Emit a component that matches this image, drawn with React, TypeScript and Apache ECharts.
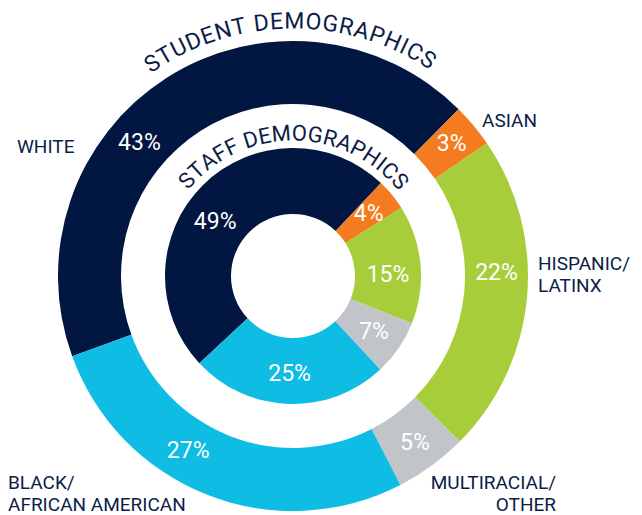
import React, { useEffect, useRef } from "react";
import * as echarts from "echarts";

// ---- data ----
const categories = ["WHITE", "ASIAN", "HISPANIC/LATINX", "MULTIRACIAL/OTHER", "BLACK/AFRICAN AMERICAN"];
const studentValues = [43, 3, 22, 5, 27];
const staffValues = [49, 4, 15, 7, 25];
const sliceColors = ["#021642", "#F47B20", "#A8CD3B", "#C1C5C9", "#0FBDE4"];
const outerTitle = "STUDENT DEMOGRAPHICS";
const innerTitle = "STAFF DEMOGRAPHICS";

// ---- layout / style ----
const CX = 293;
const CY = 276;
const OUTER_R: [number, number] = [172, 235];
const INNER_R: [number, number] = [62, 128];
const NAVY_TEXT = "#0B1D48";
const FONT_FAMILY = "Roboto, 'Noto Sans', sans-serif";

// label angle overrides (degrees, counter-clockwise from +x); null = slice middle
const outerLabelAngles: (number | null)[] = [139, null, 1, null, -121];
const innerLabelAngles: (number | null)[] = [145, null, 1, null, null];

function measure(ctx: CanvasRenderingContext2D | null, s: string, font: string, size: number) {
  if (!ctx) return s.length * size * 0.6;
  ctx.font = font;
  return ctx.measureText(s).width;
}

function arcText(text: string, radius: number, startDeg: number, endDeg: number, fontSize: number) {
  const font = `400 ${fontSize}px ${FONT_FAMILY}`;
  const canvas = document.createElement("canvas");
  const ctx = canvas.getContext("2d");
  const chars = text.split("");
  const widths = chars.map((c) => measure(ctx, c, font, fontSize));
  const n = chars.length;
  const total = widths.reduce((a, b) => a + b, 0);
  const natural = total - widths[0] / 2 - widths[n - 1] / 2;
  const target = (((startDeg - endDeg) * Math.PI) / 180) * radius;
  const extra = (target - natural) / (n - 1);
  const els: any[] = [];
  let s = 0;
  for (let i = 0; i < n; i++) {
    if (i > 0) s += widths[i - 1] / 2 + widths[i] / 2 + extra;
    const ang = (startDeg * Math.PI) / 180 - s / radius;
    if (chars[i] === " ") continue;
    els.push({
      type: "text",
      x: CX + radius * Math.cos(ang),
      y: CY - radius * Math.sin(ang),
      rotation: ang - Math.PI / 2,
      silent: true,
      style: {
        text: chars[i],
        font,
        fill: NAVY_TEXT,
        align: "center",
        verticalAlign: "middle",
        textAlign: "center",
        textVerticalAlign: "middle",
      },
    });
  }
  return els;
}

function sideText(text: string, x: number, y: number, align: "left" | "right" = "left") {
  return {
    type: "text",
    x,
    y,
    silent: true,
    style: {
      text,
      font: `400 19px ${FONT_FAMILY}`,
      lineHeight: 19,
      fill: NAVY_TEXT,
      align,
      verticalAlign: "middle",
      textAlign: align,
      textVerticalAlign: "middle",
    },
  };
}

function makeSeries(values: number[], radius: [number, number], startAngle: number, overrides: (number | null)[]) {
  const mid = (radius[0] + radius[1]) / 2;
  return {
    type: "pie",
    center: [CX, CY],
    radius,
    startAngle,
    clockwise: true,
    silent: true,
    avoidLabelOverlap: false,
    emphasis: { disabled: true },
    labelLine: { show: false },
    label: {
      show: true,
      position: "inside",
      formatter: "{c}%",
      color: "#FFFFFF",
      fontFamily: FONT_FAMILY,
      fontWeight: 400,
      fontSize: 23,
    },
    labelLayout: (params: any) => {
      const a = overrides[params.dataIndex];
      if (a == null) return {};
      const rad = (a * Math.PI) / 180;
      return {
        x: CX + mid * Math.cos(rad),
        y: CY - mid * Math.sin(rad),
        align: "center",
        verticalAlign: "middle",
      };
    },
    itemStyle: { borderWidth: 0 },
    data: values.map((v, i) => ({
      name: categories[i],
      value: v,
      itemStyle: { color: sliceColors[i] },
    })),
  };
}

export default function App() {
  const ref = useRef<HTMLDivElement>(null);
  useEffect(() => {
    document.body.style.margin = "0";
    const chart = echarts.init(ref.current!, null, { renderer: "svg" });
    const graphics: any[] = [
      ...arcText(outerTitle, 255, 123.5, 58, 23),
      ...arcText(innerTitle, 143, 138, 41.5, 22),
      sideText("WHITE", 17, 146),
      sideText("ASIAN", 482, 120),
      sideText("HISPANIC/", 538, 263),
      sideText("LATINX", 538, 285),
      sideText("MULTIRACIAL/", 556, 482, "right"),
      sideText("OTHER", 556, 504, "right"),
      sideText("BLACK/", 8, 482),
      sideText("AFRICAN AMERICAN", 8, 504),
    ];
    chart.setOption({
      animation: false,
      backgroundColor: "#FFFFFF",
      series: [
        makeSeries(studentValues, OUTER_R, 200, outerLabelAngles),
        makeSeries(staffValues, INNER_R, 223, innerLabelAngles),
      ],
      graphic: { elements: graphics },
    });
    return () => chart.dispose();
  }, []);
  return <div ref={ref} style={{ width: 642, height: 515 }} />;
}
